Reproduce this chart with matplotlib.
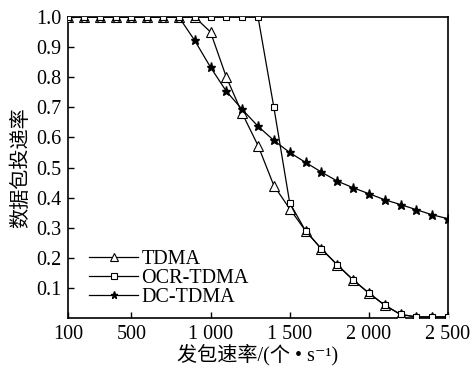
import matplotlib
matplotlib.use('Agg')
import matplotlib.pyplot as plt

# packet sending rate (packets/s)
rates = [100, 200, 300, 400, 500, 600, 700, 800, 900, 1000, 1100, 1200, 1300,
         1400, 1500, 1600, 1700, 1800, 1900, 2000, 2100, 2200, 2300, 2400, 2500]

# packet delivery ratio
tdma = [1.0, 1.0, 1.0, 1.0, 1.0, 1.0, 1.0, 1.0, 1.0, 0.95, 0.80, 0.68, 0.573,
        0.44, 0.363, 0.29, 0.23, 0.177, 0.127, 0.083, 0.043, 0.012, 0.004, 0.004, 0.004]
ocr_tdma = [1.0, 1.0, 1.0, 1.0, 1.0, 1.0, 1.0, 1.0, 1.0, 1.0, 1.0, 1.0, 1.0,
            0.70, 0.383, 0.29, 0.23, 0.177, 0.127, 0.083, 0.043, 0.012, 0.004, 0.004, 0.004]
dc_tdma = [1.0, 1.0, 1.0, 1.0, 1.0, 1.0, 1.0, 1.0, 0.922, 0.833, 0.753, 0.693, 0.637,
           0.59, 0.55, 0.517, 0.485, 0.455, 0.433, 0.413, 0.393, 0.377, 0.36, 0.343, 0.33]

xticks = [100, 500, 1000, 1500, 2000, 2500]
xtick_labels = ['100', '500', '1 000', '1 500', '2 000', '2 500']
yticks = [0.1, 0.2, 0.3, 0.4, 0.5, 0.6, 0.7, 0.8, 0.9, 1.0]

plt.rcParams['font.family'] = ['Liberation Serif', 'Noto Sans CJK SC', 'DejaVu Sans']
plt.rcParams['font.size'] = 14.5

fig = plt.figure(figsize=(4.74, 3.69), dpi=100)
ax = fig.add_axes([0.1435, 0.138, 0.8017, 0.816])

lw = 0.9
ax.plot(rates, tdma, color='black', lw=lw, marker='^', markersize=6.5,
        markerfacecolor='white', markeredgewidth=0.8, label='TDMA', zorder=3)
ax.plot(rates, ocr_tdma, color='black', lw=lw, marker='s', markersize=5,
        markerfacecolor='white', markeredgewidth=0.8, label='OCR-TDMA', zorder=4)
ax.plot(rates, dc_tdma, color='black', lw=lw, marker='*', markersize=6.5,
        markerfacecolor='black', label='DC-TDMA', zorder=3)

ax.set_xlim(100, 2500)
ax.set_ylim(0, 1.0)
ax.set_xticks(xticks)
ax.set_xticklabels(xtick_labels)
ax.set_yticks(yticks)
ax.set_yticklabels(['%.1f' % v for v in yticks])
ax.tick_params(direction='in', length=4, width=1, pad=5)
ax.xaxis.set_ticks_position('bottom')
ax.yaxis.set_ticks_position('left')
for s in ax.spines.values():
    s.set_linewidth(1.2)

ax.set_xlabel('发包速率/(个 • s⁻¹)', labelpad=0)
ax.set_ylabel('数据包投递率', labelpad=3)

ax.legend(loc='lower left', bbox_to_anchor=(0.055, 0.036), frameon=False,
          borderpad=0, borderaxespad=0, handlelength=2.45, handletextpad=0.15,
          labelspacing=0.0, markerscale=0.8)

fig.savefig('out.png', dpi=100)
